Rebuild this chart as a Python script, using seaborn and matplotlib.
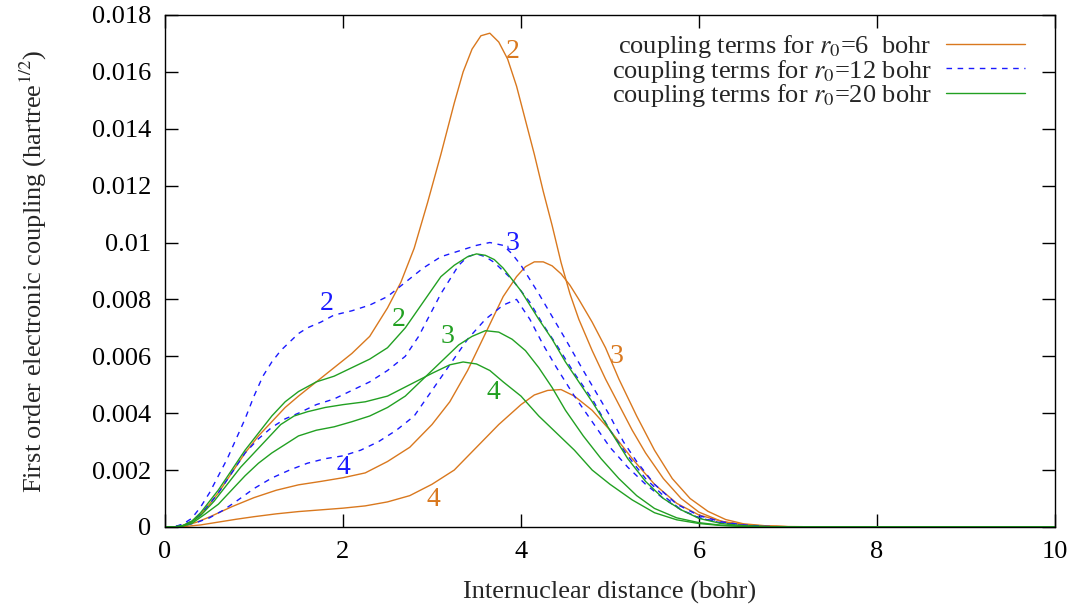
import numpy as np
import pandas as pd
import matplotlib
matplotlib.use("Agg")
import matplotlib.pyplot as plt
import seaborn as sns
from matplotlib.lines import Line2D

# ---------------- data ----------------
# r0 = 6 bohr (orange)
o2_x = [0, 0.1, 0.2, 0.3, 0.4, 0.5, 0.6, 0.75, 0.9, 1.05, 1.2, 1.35, 1.5, 1.7, 1.9, 2.1, 2.3, 2.5, 2.65, 2.8,
        2.95, 3.1, 3.25, 3.35, 3.45, 3.55, 3.65, 3.75, 3.85, 3.95, 4.05, 4.15, 4.25, 4.35, 4.45, 4.55, 4.65,
        4.8, 4.95, 5.1, 5.25, 5.4, 5.6, 5.8, 6.0, 6.25, 6.5, 6.75, 7.0, 8.0, 10.0]
o2_y = [0, 0, 0.00005, 0.00018, 0.00045, 0.0008, 0.0012, 0.0019, 0.0026, 0.0032, 0.0037, 0.0042, 0.0046, 0.0051,
        0.0056, 0.0061, 0.0067, 0.0077, 0.0086, 0.0098, 0.0114, 0.0131, 0.0149, 0.0160, 0.0168, 0.01727, 0.01736,
        0.01705, 0.01645, 0.0155, 0.0143, 0.0131, 0.0118, 0.0106, 0.0093, 0.0082, 0.0073, 0.0062, 0.0052, 0.0043,
        0.0034, 0.0026, 0.0017, 0.001, 0.00052, 0.0002, 0.00008, 0.00003, 0.00001, 0, 0]

o3_x = [0, 0.1, 0.2, 0.35, 0.5, 0.75, 1.0, 1.25, 1.5, 1.75, 2.0, 2.25, 2.5, 2.75, 3.0, 3.2, 3.4, 3.6, 3.8, 3.95,
        4.05, 4.15, 4.25, 4.35, 4.45, 4.55, 4.65, 4.8, 4.95, 5.1, 5.3, 5.5, 5.7, 5.9, 6.1, 6.3, 6.5, 6.75, 7.0,
        8.0, 10.0]
o3_y = [0, 0, 0.00003, 0.00016, 0.00035, 0.00071, 0.00103, 0.00129, 0.00148, 0.0016, 0.00173, 0.0019, 0.0023,
        0.0028, 0.0036, 0.0044, 0.0055, 0.0068, 0.0081, 0.0088, 0.00915, 0.00932, 0.00932, 0.00918, 0.0089,
        0.0085, 0.0080, 0.0072, 0.0063, 0.0052, 0.0039, 0.0027, 0.0017, 0.0010, 0.00055, 0.00026, 0.00011,
        0.00004, 0.00001, 0, 0]

o4_x = [0, 0.1, 0.2, 0.4, 0.6, 0.8, 1.0, 1.25, 1.5, 1.75, 2.0, 2.25, 2.5, 2.75, 3.0, 3.25, 3.5, 3.75, 4.0, 4.15,
        4.3, 4.45, 4.6, 4.8, 5.0, 5.25, 5.5, 5.75, 6.0, 6.3, 6.6, 7.0, 8.0, 10.0]
o4_y = [0, 0, 0.00001, 0.00007, 0.00017, 0.00027, 0.00036, 0.00046, 0.00054, 0.0006, 0.00066, 0.00074, 0.00088,
        0.0011, 0.0015, 0.0020, 0.0028, 0.0036, 0.0043, 0.00464, 0.0048, 0.00483, 0.0046, 0.0041, 0.0034, 0.0024,
        0.0015, 0.00083, 0.00042, 0.00016, 0.00005, 0.00001, 0, 0]

# r0 = 12 bohr (blue dashed)
b2_x = [0, 0.1, 0.2, 0.3, 0.4, 0.5, 0.6, 0.7, 0.8, 0.9, 1.0, 1.1, 1.2, 1.3, 1.4, 1.5, 1.6, 1.75, 1.9, 2.1, 2.3,
        2.5, 2.7, 2.9, 3.1, 3.3, 3.5, 3.65, 3.8, 3.9, 4.0, 4.1, 4.2, 4.35, 4.5, 4.7, 4.85, 5.0, 5.15, 5.3, 5.5,
        5.75, 6.0, 6.25, 6.5, 6.75, 7.0, 8.0, 10.0]
b2_y = [0, 0, 0.0001, 0.0003, 0.0007, 0.0012, 0.0018, 0.0024, 0.0031, 0.0038, 0.0046, 0.0053, 0.0058, 0.0062,
        0.0065, 0.0068, 0.0070, 0.0072, 0.00745, 0.0076, 0.0078, 0.0081, 0.0086, 0.0091, 0.0095, 0.0097, 0.0099,
        0.0100, 0.0099, 0.0096, 0.0092, 0.0087, 0.0082, 0.0074, 0.0066, 0.0055, 0.0047, 0.0039, 0.0030, 0.0023,
        0.0015, 0.0008, 0.0004, 0.00018, 0.00007, 0.00002, 0, 0, 0]

b3_x = [0, 0.1, 0.2, 0.3, 0.4, 0.5, 0.6, 0.75, 0.9, 1.05, 1.2, 1.35, 1.5, 1.7, 1.9, 2.1, 2.3, 2.5, 2.7, 2.85,
        3.0, 3.1, 3.2, 3.3, 3.4, 3.5, 3.6, 3.7, 3.8, 3.9, 4.0, 4.1, 4.25, 4.4, 4.6, 4.8, 5.0, 5.2, 5.4, 5.6,
        5.8, 6.0, 6.25, 6.5, 6.75, 7.0, 8.0, 10.0]
b3_y = [0, 0, 0.00008, 0.0002, 0.00045, 0.0008, 0.0012, 0.0019, 0.0026, 0.0031, 0.0035, 0.0038, 0.0040, 0.0043,
        0.0045, 0.0048, 0.0051, 0.0055, 0.0060, 0.0067, 0.0076, 0.0082, 0.0087, 0.0092, 0.0095, 0.0096, 0.0095,
        0.0093, 0.0090, 0.0087, 0.0083, 0.0079, 0.0071, 0.0064, 0.0054, 0.0045, 0.0034, 0.0025, 0.0017, 0.0011,
        0.0006, 0.00032, 0.00014, 0.00005, 0.00001, 0, 0, 0]

b4_x = [0, 0.1, 0.2, 0.35, 0.5, 0.65, 0.8, 1.0, 1.2, 1.4, 1.6, 1.8, 2.0, 2.2, 2.4, 2.6, 2.8, 3.0, 3.2, 3.4, 3.6,
        3.8, 3.95, 4.1, 4.25, 4.4, 4.6, 4.8, 5.0, 5.2, 5.4, 5.6, 5.8, 6.0, 6.25, 6.5, 6.75, 7.0, 8.0, 10.0]
b4_y = [0, 0, 0.00004, 0.00015, 0.00032, 0.00058, 0.0009, 0.00135, 0.00172, 0.0020, 0.00224, 0.0024, 0.0025,
        0.0027, 0.0030, 0.0034, 0.0039, 0.0048, 0.0057, 0.0066, 0.0073, 0.0078, 0.0080, 0.0073, 0.0064, 0.0056,
        0.0046, 0.0037, 0.0028, 0.0021, 0.0015, 0.0010, 0.0006, 0.00033, 0.00014, 0.00005, 0.00001, 0, 0, 0]

# r0 = 20 bohr (green)
g2_x = [0, 0.1, 0.2, 0.3, 0.4, 0.5, 0.6, 0.75, 0.9, 1.05, 1.2, 1.35, 1.5, 1.7, 1.9, 2.1, 2.3, 2.5, 2.7, 2.9, 3.1,
        3.25, 3.4, 3.5, 3.6, 3.7, 3.8, 3.9, 4.0, 4.1, 4.2, 4.35, 4.5, 4.65, 4.8, 5.0, 5.2, 5.4, 5.6, 5.8, 6.0,
        6.25, 6.5, 6.75, 7.0, 8.0, 10.0]
g2_y = [0, 0, 0.00005, 0.0002, 0.0005, 0.0009, 0.0013, 0.0020, 0.0027, 0.0033, 0.0039, 0.0044, 0.00476, 0.0051,
        0.0053, 0.0056, 0.0059, 0.0063, 0.0070, 0.0079, 0.0088, 0.0092, 0.0095, 0.0096, 0.00955, 0.0094, 0.0091,
        0.0087, 0.0083, 0.0078, 0.0073, 0.0066, 0.0058, 0.0051, 0.0044, 0.0034, 0.0024, 0.0016, 0.0010, 0.0006,
        0.0003, 0.00012, 0.00004, 0.00001, 0, 0, 0]

g3_x = [0, 0.1, 0.2, 0.3, 0.45, 0.6, 0.75, 0.9, 1.05, 1.2, 1.35, 1.5, 1.7, 1.9, 2.1, 2.3, 2.5, 2.7, 2.9, 3.1, 3.3,
        3.45, 3.6, 3.75, 3.9, 4.05, 4.2, 4.35, 4.5, 4.7, 4.9, 5.1, 5.3, 5.5, 5.75, 6.0, 6.25, 6.5, 7.0, 8.0, 10.0]
g3_y = [0, 0, 0.00003, 0.00012, 0.00045, 0.0008, 0.0013, 0.0018, 0.00224, 0.0026, 0.0029, 0.0032, 0.0034,
        0.00352, 0.0037, 0.0039, 0.0042, 0.0046, 0.0052, 0.0058, 0.0064, 0.0067, 0.0069, 0.00685, 0.0066, 0.0062,
        0.0056, 0.0049, 0.0041, 0.0032, 0.0024, 0.0017, 0.0011, 0.00065, 0.00032, 0.00015, 0.00006, 0.00002, 0,
        0, 0]

g4_x = [0, 0.1, 0.2, 0.3, 0.4, 0.55, 0.7, 0.85, 1.0, 1.15, 1.3, 1.45, 1.6, 1.8, 2.0, 2.25, 2.5, 2.75, 3.0, 3.2,
        3.35, 3.5, 3.65, 3.8, 4.0, 4.2, 4.4, 4.6, 4.8, 5.0, 5.25, 5.5, 5.75, 6.0, 6.25, 6.5, 7.0, 8.0, 10.0]
g4_y = [0, 0, 0.00004, 0.00017, 0.0004, 0.0009, 0.0015, 0.0021, 0.0026, 0.0031, 0.0036, 0.0039, 0.00405, 0.0042,
        0.0043, 0.0044, 0.0046, 0.0050, 0.0054, 0.0057, 0.0058, 0.00573, 0.0055, 0.0051, 0.0046, 0.0039, 0.0033,
        0.0027, 0.0020, 0.0015, 0.00095, 0.0005, 0.00025, 0.00012, 0.00005, 0.00002, 0, 0, 0]

legend_labels = [r"coupling terms for $r_0$=6  bohr",
                 r"coupling terms for $r_0$=12 bohr",
                 r"coupling terms for $r_0$=20 bohr"]
curve_labels = ["2", "3", "4"]
label_pos_x = {"orange": [3.91, 5.07, 3.02], "blue": [1.82, 3.91, 2.0], "green": [2.63, 3.17, 3.69]}
label_pos_y = {"orange": [0.0167, 0.0060, 0.00098], "blue": [0.00787, 0.00995, 0.0021],
               "green": [0.0073, 0.00668, 0.00471]}
x_ticks = [0, 2, 4, 6, 8, 10]
y_ticks = [0, 0.002, 0.004, 0.006, 0.008, 0.01, 0.012, 0.014, 0.016, 0.018]
y_tick_labels = ["0", "0.002", "0.004", "0.006", "0.008", "0.01", "0.012", "0.014", "0.016", "0.018"]

# ---------------- styling ----------------
sns.set_style("ticks")
plt.rcParams["font.family"] = ["Liberation Serif", "DejaVu Serif"]
plt.rcParams["mathtext.fontset"] = "stix"

FS = 19
C_OR = "#d9781e"
C_BL = "#1a1aff"
C_GR = "#22a022"

groups = [
    ("orange", C_OR, None, [(o2_x, o2_y), (o3_x, o3_y), (o4_x, o4_y)]),
    ("blue", C_BL, (4, 4), [(b2_x, b2_y), (b3_x, b3_y), (b4_x, b4_y)]),
    ("green", C_GR, None, [(g2_x, g2_y), (g3_x, g3_y), (g4_x, g4_y)]),
]

fig = plt.figure(figsize=(10.82, 6.12), dpi=100)
ax = fig.add_axes([0.1525, 0.139, 0.8225, 0.8365])

for name, color, dash, curves in groups:
    for cx, cy in curves:
        df = pd.DataFrame({"x": cx, "y": cy})
        kw = dict(color=color, linewidth=1.0, ax=ax, sort=False, estimator=None, legend=False)
        if dash is not None:
            kw["dashes"] = dash
        sns.lineplot(data=df, x="x", y="y", **kw)
    for lab, lx, ly in zip(curve_labels, label_pos_x[name], label_pos_y[name]):
        ax.text(lx, ly, lab, color=color, fontsize=FS + 1, ha="center", va="center")

ax.set_xlim(0, 10)
ax.set_ylim(0, 0.018)
ax.set_xticks(x_ticks)
ax.set_xticklabels([str(t) for t in x_ticks])
ax.set_yticks(y_ticks)
ax.set_yticklabels(y_tick_labels)
ax.tick_params(direction="in", length=9.5, width=1, top=True, right=True, labelsize=FS, pad=10,
               color="black", labelcolor="black")
ax.minorticks_off()
for s in ax.spines.values():
    s.set_linewidth(1.0)
    s.set_color("black")
    s.set_visible(True)

ax.set_xlabel("Internuclear distance (bohr)", fontsize=FS, labelpad=13)
ax.set_ylabel(r"First order electronic coupling (hartree$^{1/2}$)", fontsize=FS, labelpad=31)

handles = [Line2D([], [], color=C_OR, lw=1.0),
           Line2D([], [], color=C_BL, lw=1.0, dashes=(4, 4)),
           Line2D([], [], color=C_GR, lw=1.0)]
ax.legend(handles, legend_labels, loc="upper right", bbox_to_anchor=(0.978, 0.985), frameon=False,
          markerfirst=False, fontsize=FS, handlelength=3.0, handletextpad=0.53, labelspacing=-0.1,
          borderaxespad=0.0)

fig.savefig("out.png", dpi=100)
